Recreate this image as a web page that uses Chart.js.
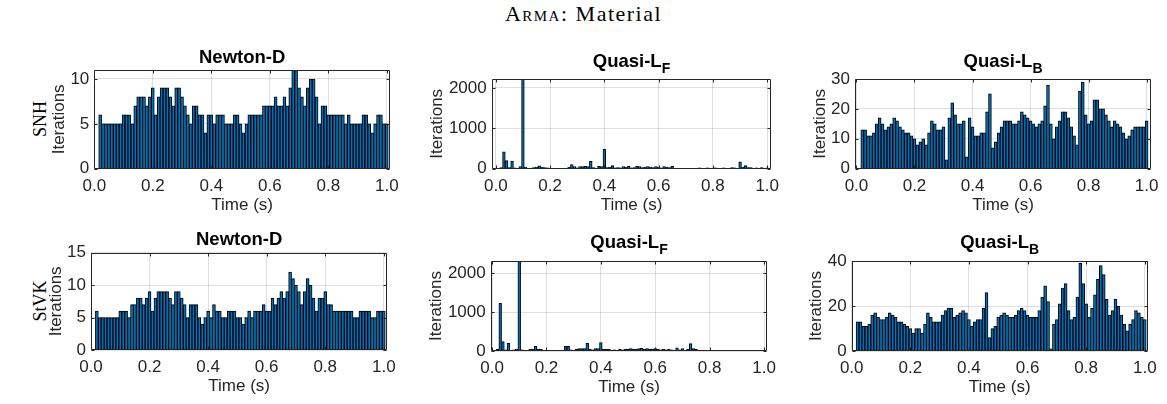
<!DOCTYPE html>
<html>
<head>
<meta charset="utf-8">
<script src="https://cdn.jsdelivr.net/npm/chart.js@4.4.1/dist/chart.umd.min.js"></script>
<style>
  body { margin: 0; background: #fff; }
  #wrap { position: relative; width: 1167px; height: 404px; overflow: hidden; background: #fff; }
  canvas { position: absolute; }
  .suptitle { position: absolute; left: 0; top: 1px; width: 1167px; text-align: center;
              font: 22px 'Liberation Serif', serif; color: #000; line-height: 26px; letter-spacing: 1.5px; }
  .rowlabel { position: absolute; font: 18px 'Liberation Serif', serif; color: #000; white-space: nowrap;
              transform: translate(-50%, -50%) rotate(-90deg); }
</style>
</head>
<body>
<div id="wrap">
  <div class="suptitle"><span style="font-variant: small-caps">Arma</span>: Material</div>
  <div class="rowlabel" style="left:40px; top:119px">SNH</div>
  <div class="rowlabel" style="left:40px; top:301px">StVK</div>
  <canvas id="c1"></canvas>
  <canvas id="c2"></canvas>
  <canvas id="c3"></canvas>
  <canvas id="c4"></canvas>
  <canvas id="c5"></canvas>
  <canvas id="c6"></canvas>
</div>
<script>
// time steps (s), one bar each
const timeSteps = [
  0.02, 0.03, 0.04, 0.05, 0.06, 0.07, 0.08, 0.09, 0.10, 0.11,
  0.12, 0.13, 0.14, 0.15, 0.16, 0.17, 0.18, 0.19, 0.20, 0.21,
  0.22, 0.23, 0.24, 0.25, 0.26, 0.27, 0.28, 0.29, 0.30, 0.31,
  0.32, 0.33, 0.34, 0.35, 0.36, 0.37, 0.38, 0.39, 0.40, 0.41,
  0.42, 0.43, 0.44, 0.45, 0.46, 0.47, 0.48, 0.49, 0.50, 0.51,
  0.52, 0.53, 0.54, 0.55, 0.56, 0.57, 0.58, 0.59, 0.60, 0.61,
  0.62, 0.63, 0.64, 0.65, 0.66, 0.67, 0.68, 0.69, 0.70, 0.71,
  0.72, 0.73, 0.74, 0.75, 0.76, 0.77, 0.78, 0.79, 0.80, 0.81,
  0.82, 0.83, 0.84, 0.85, 0.86, 0.87, 0.88, 0.89, 0.90, 0.91,
  0.92, 0.93, 0.94, 0.95, 0.96, 0.97, 0.98, 0.99, 1.00
];

// SNH row
const snhNewton = [
  6, 5, 5, 5, 5, 5, 5, 5, 6, 6,
  6, 5, 7, 8, 8, 8, 7, 8, 9, 6,
  8, 9, 9, 9, 8, 7, 9, 9, 8, 7,
  6, 5, 7, 7, 6, 6, 4, 6, 6, 5,
  6, 6, 6, 5, 5, 5, 6, 6, 5, 4,
  5, 6, 6, 6, 6, 6, 7, 7, 7, 7,
  8, 7, 7, 8, 7, 9, 11, 11, 9, 8,
  7, 9, 10, 10, 8, 5, 7, 7, 6, 6,
  6, 6, 6, 6, 5, 6, 5, 5, 5, 5,
  6, 6, 5, 4, 5, 6, 6, 5, 5
];
const snhQuasiLF = [
  30, 420, 200, 30, 190, 20, 10, 50, 2220, 40,
  10, 5, 30, 40, 70, 40, 30, 20, 10, 10,
  5, 10, 5, 5, 10, 40, 100, 50, 20, 50,
  50, 60, 50, 180, 30, 10, 60, 50, 480, 30,
  40, 80, 20, 30, 20, 50, 40, 60, 20, 30,
  60, 50, 30, 40, 50, 40, 30, 50, 40, 20,
  50, 40, 30, 60, 10, 10, 10, 5, 5, 10,
  5, 5, 10, 20, 5, 10, 20, 10, 5, 20,
  10, 5, 20, 10, 5, 30, 20, 10, 170, 40,
  80, 30, 30, 10, 20, 5, 30, 10, 20
];
const snhQuasiLB = [
  13, 13, 11, 11, 12, 15, 17, 15, 13, 14,
  15, 17, 16, 14, 13, 12, 12, 11, 10, 8,
  9, 10, 8, 12, 16, 15, 13, 13, 14, 3,
  17, 22, 18, 15, 15, 16, 4, 17, 14, 11,
  11, 12, 12, 19, 25, 7, 9, 12, 14, 16,
  16, 16, 15, 15, 16, 19, 18, 17, 16, 15,
  14, 15, 16, 21, 28, 15, 10, 14, 16, 19,
  19, 17, 14, 11, 8, 26, 29, 18, 15, 16,
  23, 23, 20, 20, 18, 16, 14, 16, 15, 14,
  12, 10, 11, 13, 14, 14, 14, 14, 16
];

// StVK row
const stvkNewton = [
  6, 5, 5, 5, 5, 5, 5, 5, 6, 6,
  6, 5, 7, 7, 8, 8, 7, 8, 9, 6,
  8, 9, 9, 9, 9, 8, 7, 9, 9, 8,
  7, 5, 7, 7, 7, 5, 4, 5, 6, 5,
  7, 6, 6, 5, 5, 6, 6, 6, 5, 5,
  4, 5, 6, 5, 6, 6, 6, 7, 6, 6,
  8, 7, 8, 9, 8, 9, 12, 11, 10, 9,
  7, 9, 11, 10, 8, 6, 8, 8, 9, 7,
  7, 6, 6, 6, 6, 6, 6, 6, 5, 5,
  6, 6, 6, 6, 5, 5, 6, 6, 6
];
const stvkQuasiLF = [
  40, 1227, 240, 30, 200, 20, 30, 50, 2320, 30,
  10, 10, 40, 50, 120, 50, 40, 20, 10, 10,
  10, 5, 10, 10, 5, 120, 120, 30, 20, 40,
  60, 60, 60, 200, 50, 30, 60, 60, 220, 40,
  40, 40, 20, 30, 20, 40, 30, 50, 40, 60,
  50, 40, 60, 70, 50, 60, 40, 50, 60, 40,
  30, 40, 30, 50, 30, 20, 80, 30, 60, 20,
  50, 190, 60, 40, 20, 10, 10, 5, 10, 5,
  10, 5, 10, 5, 10, 5, 10, 5, 10, 5,
  10, 5, 20, 5, 10, 5, 5, 10, 5
];
const stvkQuasiLB = [
  13, 13, 11, 11, 12, 16, 17, 15, 14, 14,
  15, 17, 16, 15, 13, 13, 12, 11, 10, 8,
  10, 10, 8, 12, 17, 15, 13, 13, 13, 16,
  18, 19, 19, 15, 16, 17, 18, 17, 14, 11,
  13, 14, 14, 19, 26, 6, 10, 11, 15, 16,
  17, 16, 15, 15, 16, 18, 19, 18, 16, 15,
  15, 15, 18, 24, 29, 22, 1, 12, 14, 21,
  28, 30, 18, 14, 15, 24, 39, 30, 21, 15,
  19, 25, 32, 38, 34, 23, 16, 18, 23, 20,
  16, 12, 9, 12, 14, 18, 17, 15, 14
];

// tick labels
const xTicks = [0, 0.2, 0.4, 0.6, 0.8, 1.0];
const yTicksNewtonSNH = [0, 5, 10];
const yTicksNewtonStVK = [0, 5, 10, 15];
const yTicksQuasiLF = [0, 1000, 2000];
const yTicksLB_SNH = [0, 10, 20, 30];
const yTicksLB_StVK = [0, 20, 40];

const FONT = "'Liberation Sans', Arial, Helvetica, sans-serif";
const AXIS_COLOR = '#262626';
const GRID_COLOR = 'rgba(38,38,38,0.15)';
const BAR_COLOR = '#0072BD';

// box + inward tick marks, like matlab axes
const matlabAxes = {
  id: 'matlabAxes',
  afterDatasetsDraw(chart) {
    const {ctx, chartArea: a, scales} = chart;
    const l = Math.round(a.left) + 0.5, r = Math.round(a.right) - 0.5;
    const t = Math.round(a.top) + 0.5, b = Math.round(a.bottom) - 0.5;
    ctx.save();
    ctx.strokeStyle = AXIS_COLOR;
    ctx.lineWidth = 1;
    ctx.beginPath();
    ctx.rect(l, t, r - l, b - t);
    scales.x.ticks.forEach(tk => {
      const px = Math.round(scales.x.getPixelForValue(tk.value)) + 0.5;
      ctx.moveTo(px, b); ctx.lineTo(px, b - 3);
      ctx.moveTo(px, t); ctx.lineTo(px, t + 3);
    });
    scales.y.ticks.forEach(tk => {
      const py = Math.round(scales.y.getPixelForValue(tk.value)) + 0.5;
      ctx.moveTo(l, py); ctx.lineTo(l + 3, py);
      ctx.moveTo(r, py); ctx.lineTo(r - 3, py);
    });
    ctx.stroke();
    ctx.restore();
  }
};

// bold title with optional subscript
const panelTitle = {
  id: 'panelTitle',
  afterDraw(chart, args, opts) {
    const {ctx, chartArea: a} = chart;
    const mainFont = 'bold 18.5px ' + FONT, subFont = 'bold 14px ' + FONT;
    ctx.save();
    ctx.fillStyle = '#000';
    ctx.textBaseline = 'alphabetic';
    ctx.textAlign = 'left';
    ctx.font = mainFont;
    const w1 = ctx.measureText(opts.main).width;
    ctx.font = subFont;
    const w2 = opts.sub ? ctx.measureText(opts.sub).width : 0;
    const x0 = (a.left + a.right) / 2 - (w1 + w2) / 2;
    ctx.font = mainFont;
    ctx.fillText(opts.main, x0, opts.baseline);
    if (opts.sub) {
      ctx.font = subFont;
      ctx.fillText(opts.sub, x0 + w1, opts.baseline + 6);
    }
    ctx.restore();
  }
};

const panels = [
  { id: 'c1', values: snhNewton,  yMax: 11,   yTicks: yTicksNewtonSNH,  xMin: 0,      xMax: 1.011,
    L: 94.3,  T: 70,    R: 390,    B: 168.7, top: 38,  dT: 35, title: 'Newton-D', sub: '',  base: 63 },
  { id: 'c2', values: snhQuasiLF, yMax: 2220, yTicks: yTicksQuasiLF,    xMin: -0.015, xMax: 1.015,
    L: 491.7, T: 79,    R: 771.3,  B: 168.7, top: 38,  dT: 54, title: 'Quasi-L',  sub: 'F', base: 67 },
  { id: 'c3', values: snhQuasiLB, yMax: 30,   yTicks: yTicksLB_SNH,     xMin: -0.005, xMax: 1.015,
    L: 855,   T: 79,    R: 1151,   B: 168.7, top: 38,  dT: 35, title: 'Quasi-L',  sub: 'B', base: 67 },
  { id: 'c4', values: stvkNewton, yMax: 15,   yTicks: yTicksNewtonStVK, xMin: 0,      xMax: 1.012,
    L: 91,    T: 252.7, R: 387.3,  B: 350,   top: 218, dT: 35, title: 'Newton-D', sub: '',  base: 245 },
  { id: 'c5', values: stvkQuasiLF, yMax: 2320, yTicks: yTicksQuasiLF,   xMin: -0.005, xMax: 1.012,
    L: 490.7, T: 261,   R: 767.3,  B: 351,   top: 218, dT: 54, title: 'Quasi-L',  sub: 'F', base: 248 },
  { id: 'c6', values: stvkQuasiLB, yMax: 40,  yTicks: yTicksLB_StVK,    xMin: 0,      xMax: 1.01,
    L: 851.7, T: 261,   R: 1147.7, B: 351,   top: 218, dT: 35, title: 'Quasi-L',  sub: 'B', base: 248 }
];

function makePanel(p) {
  const canvas = document.getElementById(p.id);
  const left = Math.floor(p.L - p.dT - 12.2);
  const yWidth = p.L - left;
  const width = Math.ceil(p.R - left + 26);
  const height = Math.ceil(p.B - p.top + 48.7);
  const xHeight = height - (p.B - p.top);
  canvas.width = width;
  canvas.height = height;
  canvas.style.left = left + 'px';
  canvas.style.top = p.top + 'px';

  return new Chart(canvas, {
    type: 'bar',
    data: {
      datasets: [{
        data: p.values.map((v, i) => ({ x: timeSteps[i], y: v })),
        backgroundColor: BAR_COLOR,
        borderColor: '#000',
        borderWidth: 1,
        barPercentage: 1,
        categoryPercentage: 1
      }]
    },
    options: {
      responsive: false,
      animation: false,
      devicePixelRatio: 1,
      layout: { padding: { left: 0, top: p.T - p.top, right: width - (p.R - left), bottom: 0 } },
      plugins: {
        legend: { display: false },
        tooltip: { enabled: false },
        panelTitle: { main: p.title, sub: p.sub, baseline: p.base - p.top }
      },
      scales: {
        x: {
          type: 'linear',
          min: p.xMin,
          max: p.xMax,
          offset: false,
          grid: { color: GRID_COLOR, drawTicks: false, offset: false },
          border: { display: false },
          afterBuildTicks: s => { s.ticks = xTicks.map(v => ({ value: v })); },
          afterFit: s => { s.height = xHeight; },
          ticks: { color: AXIS_COLOR, font: { family: FONT, size: 17 }, padding: 7.5,
                   maxRotation: 0, autoSkip: false, callback: v => v.toFixed(1) },
          title: { display: true, text: 'Time (s)', color: AXIS_COLOR,
                   font: { family: FONT, size: 17 }, padding: { top: 0, bottom: xHeight - 46.7 } }
        },
        y: {
          min: 0,
          max: p.yMax,
          grid: { color: GRID_COLOR, drawTicks: false },
          border: { display: false },
          afterBuildTicks: s => { s.ticks = p.yTicks.map(v => ({ value: v })); },
          afterFit: s => { s.width = yWidth; },
          ticks: { color: AXIS_COLOR, font: { family: FONT, size: 17 }, padding: 5,
                   callback: v => String(v) },
          title: { display: true, text: 'Iterations', color: AXIS_COLOR,
                   font: { family: FONT, size: 17 }, padding: { top: yWidth - p.dT - 10.2, bottom: 0 } }
        }
      }
    },
    plugins: [matlabAxes, panelTitle]
  });
}

panels.forEach(makePanel);
</script>
</body>
</html>
